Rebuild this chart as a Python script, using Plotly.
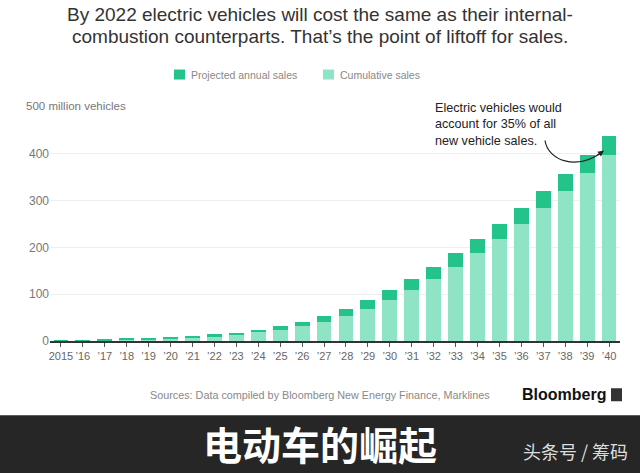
import plotly.graph_objects as go

# ---- data (million vehicles) ----
years = ["2015", "’16", "’17", "’18", "’19", "’20", "’21", "’22", "’23", "’24", "’25", "’26", "’27",
         "’28", "’29", "’30", "’31", "’32", "’33", "’34", "’35", "’36", "’37", "’38", "’39", "’40"]
cumulative_sales = [0.5, 1.3, 2, 3, 4, 6, 8, 10.5, 13.5, 18.5, 24, 31, 41,
                    54, 69, 87, 108, 132, 158, 187, 217, 249, 284, 320, 358, 397]
annual_sales = [0.5, 0.7, 1, 1.5, 2, 2.5, 3, 3.5, 4.5, 5.5, 7, 10, 12,
                15, 18, 21, 24, 26, 29, 30, 32, 35, 36, 37, 39, 41]
y_ticks = [0, 100, 200, 300, 400, 500]
y_labels = ["0", "100", "200", "300", "400", ""]

W, H = 640, 473
L, R, T, B = 50, 20, 106.5, 132.3
PW, PH = W - L - R, H - T - B

def px(x):
    return (x - L) / PW

def py(y):
    return (H - B - y) / PH

DARK = "#24c389"
LIGHT = "#8fe4c6"
FONT = "Liberation Sans, Arial, sans-serif"

xs = list(range(len(years)))
fig = go.Figure()
fig.add_trace(go.Bar(x=xs, y=cumulative_sales, name="Cumulative sales",
                     marker=dict(color=LIGHT, line=dict(width=0)), width=0.68))
fig.add_trace(go.Bar(x=xs, y=annual_sales, name="Projected annual sales",
                     marker=dict(color=DARK, line=dict(width=0)), width=0.68))

fig.update_layout(
    barmode="stack",
    width=W, height=H,
    margin=dict(l=L, r=R, t=T, b=B, pad=0),
    paper_bgcolor="white", plot_bgcolor="white",
    showlegend=False,
    font=dict(family=FONT),
)
fig.update_xaxes(range=[-0.5, len(years) - 0.5], tickvals=xs, ticktext=years,
                 showgrid=False, showline=True, linecolor="#333", linewidth=1.5,
                 ticks="outside", ticklen=4, tickcolor="#555", tickwidth=1,
                 tickfont=dict(size=11, color="#666"), zeroline=False)
fig.update_yaxes(range=[0, 500], tickvals=y_ticks, ticktext=y_labels,
                 showgrid=True, gridcolor="#efefef", gridwidth=1,
                 showline=False, zeroline=False, ticks="",
                 tickfont=dict(size=12, color="#777"))

ann = []
shapes = []

def text(x, y, s, size, color, anchor="center", bold=False, bg=None, family=FONT):
    d = dict(x=px(x), y=py(y), xref="paper", yref="paper", text=("<b>%s</b>" % s) if bold else s,
             showarrow=False, xanchor=anchor, yanchor="middle",
             font=dict(size=size, color=color, family=family))
    if bg:
        d["bgcolor"] = bg
    ann.append(d)

# title
text(320, 14, "By 2022 electric vehicles will cost the same as their internal-", 19, "#333")
text(320, 36, "combustion counterparts. That’s the point of liftoff for sales.", 19, "#333")

# legend
shapes.append(dict(type="rect", xref="paper", yref="paper", x0=px(174), x1=px(185), y0=py(79), y1=py(69),
                   fillcolor=DARK, line=dict(width=0)))
text(189, 74, "Projected annual sales", 10.5, "#888", anchor="left")
shapes.append(dict(type="rect", xref="paper", yref="paper", x0=px(323), x1=px(334), y0=py(79), y1=py(69),
                   fillcolor=LIGHT, line=dict(width=0)))
text(338, 74, "Cumulative sales", 10.5, "#888", anchor="left")

# y axis unit label
text(24, 105.5, "500 million vehicles", 11.5, "#777", anchor="left", bg="white")

# callout
ann.append(dict(x=px(433), y=py(124), xref="paper", yref="paper",
                text="Electric vehicles would<br>account for 35% of all<br>new vehicle sales.",
                showarrow=False, xanchor="left", yanchor="middle", align="left",
                font=dict(size=12.6, color="#222", family=FONT)))
p = [(545, 140), (548, 160), (576, 171), (603, 151)]
path = "M %f,%f C %f,%f %f,%f %f,%f" % tuple(v for pt in p for v in (px(pt[0]), py(pt[1])))
shapes.append(dict(type="path", xref="paper", yref="paper", path=path,
                   line=dict(color="#222", width=1.2)))
ann.append(dict(x=px(604), y=py(150), xref="paper", yref="paper", ax=-8, ay=6,
                text="", showarrow=True, arrowhead=2, arrowsize=1, arrowwidth=1.2,
                arrowcolor="#222", standoff=0))

# sources & logo
text(320, 395, "Sources: Data compiled by Bloomberg New Energy Finance, Marklines", 10.8, "#888")
text(520, 394, "Bloomberg", 16, "#111", anchor="left", bold=True)
shapes.append(dict(type="rect", xref="paper", yref="paper", x0=px(611), x1=px(622), y0=py(401), y1=py(388),
                   fillcolor="#333", line=dict(width=0)))

# bottom banner
shapes.append(dict(type="rect", xref="paper", yref="paper", x0=px(0), x1=px(640), y0=py(473), y1=py(415),
                   fillcolor="#262626", line=dict(width=0), layer="above"))
CJK = "Noto Sans CJK SC"
text(320, 443, "电动车的崛起", 39, "#ffffff", bold=True, family=CJK)
text(630, 451, "头条号 / 筹码", 18, "#dddddd", anchor="right", family=CJK)

fig.update_layout(annotations=ann, shapes=shapes)
fig.write_html("out.html", config={"displayModeBar": False},
               post_script="document.body.style.margin='0px';document.body.style.overflow='hidden';")
